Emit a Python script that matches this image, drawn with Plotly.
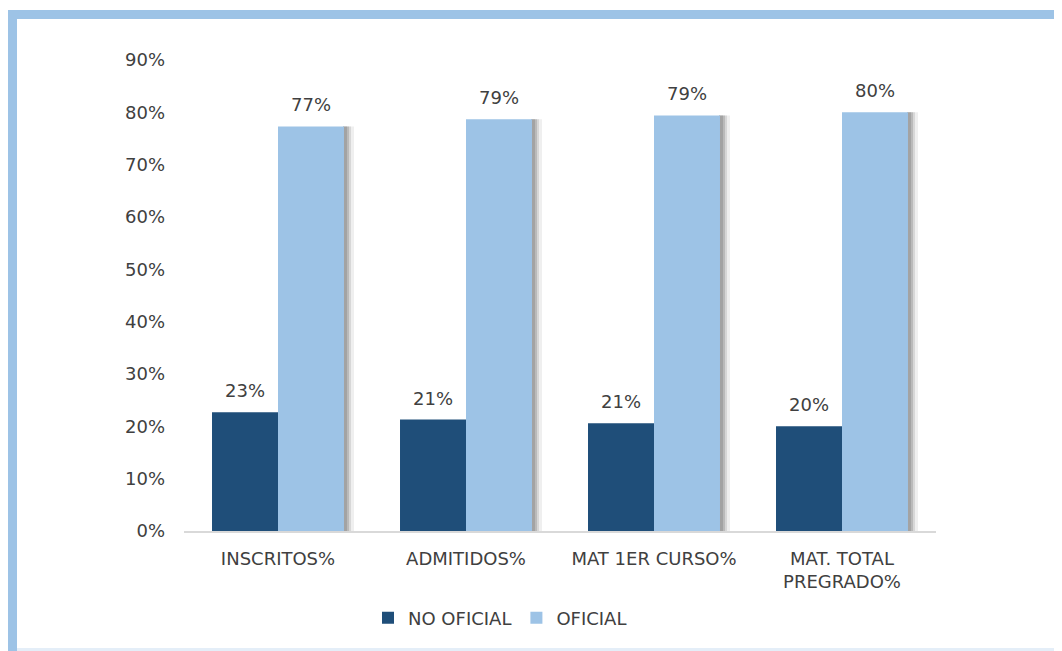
import plotly.graph_objects as go

categorias = ["INSCRITOS%", "ADMITIDOS%", "MAT 1ER CURSO%", "MAT. TOTAL<br>PREGRADO%"]
no_oficial = [22.7, 21.3, 20.6, 20.0]
oficial = [77.3, 78.7, 79.4, 80.0]
y_ticks = [0, 10, 20, 30, 40, 50, 60, 70, 80, 90]

# page shows the figure offset by 8px (body margin)
OFF = 8
W, H = 1062 - OFF, 651 - OFF
L, R, T, B = 184 - OFF, 126, 60 - OFF, 120
pw, ph = W - L - R, H - T - B

def px_x(p):
    return (p - OFF - L) / pw

def px_y(p):
    return (H - B - (p - OFF)) / ph

DARK = "#1F4E79"
LIGHT = "#9DC3E6"
TXT = "#404040"
FONT = "DejaVu Sans"
FS = 18
bw = 0.351
cpx = 1 / 188  # one pixel in category units
half_bar_px = 33

fig = go.Figure()
# soft shadow behind the light bars (layered for a blur effect)
for wpx, alpha in [(10, 0.12), (7, 0.2), (5, 0.3), (3, 0.35)]:
    fig.add_trace(go.Bar(x=categorias, y=oficial, offset=bw - cpx, width=(wpx + 1) * cpx,
                         marker=dict(color=f"rgba(120,120,120,{alpha})", line=dict(width=0)),
                         showlegend=False, hoverinfo="skip"))
fig.add_trace(go.Bar(name="NO OFICIAL", x=categorias, y=no_oficial, offset=-bw, width=bw,
                     marker=dict(color=DARK, line=dict(width=0))))
fig.add_trace(go.Bar(name="OFICIAL", x=categorias, y=oficial, offset=0, width=bw,
                     marker=dict(color=LIGHT, line=dict(width=0))))

annotations = []
for c, v in zip(categorias, no_oficial):
    annotations.append(dict(x=c, y=v, text=f"{v:.0f}%", showarrow=False, xshift=-half_bar_px,
                            yanchor="bottom", yshift=9, font=dict(size=FS, color=TXT, family=FONT)))
for c, v in zip(categorias, oficial):
    annotations.append(dict(x=c, y=v, text=f"{v:.0f}%", showarrow=False, xshift=half_bar_px,
                            yanchor="bottom", yshift=9, font=dict(size=FS, color=TXT, family=FONT)))

shapes = [
    dict(type="rect", xref="paper", yref="paper", x0=px_x(8), x1=px_x(17), y0=px_y(660), y1=px_y(10),
         fillcolor=LIGHT, line=dict(width=0), layer="below"),
    dict(type="rect", xref="paper", yref="paper", x0=px_x(8), x1=px_x(1070), y0=px_y(19), y1=px_y(10),
         fillcolor=LIGHT, line=dict(width=0), layer="below"),
    dict(type="rect", xref="paper", yref="paper", x0=px_x(17), x1=px_x(1070), y0=px_y(651), y1=px_y(648),
         fillcolor="#E4EEF8", line=dict(width=0), layer="below"),
]

fig.update_layout(
    width=W, height=H,
    margin=dict(l=L, r=R, t=T, b=B),
    paper_bgcolor="white", plot_bgcolor="white",
    barmode="overlay",
    font=dict(family=FONT, size=FS, color=TXT),
    showlegend=True,
    legend=dict(orientation="h", x=px_x(500), y=px_y(618), xanchor="center", yanchor="middle",
                font=dict(size=FS, color=TXT, family=FONT), traceorder="normal",
                itemwidth=30, bgcolor="rgba(0,0,0,0)"),
    xaxis=dict(showgrid=False, showline=True, linecolor="#D9D9D9", linewidth=2,
               ticks="", ticklabelstandoff=10,
               tickfont=dict(size=FS, color=TXT, family=FONT), fixedrange=True),
    yaxis=dict(range=[0, 90], tickvals=y_ticks, ticktext=[f"{v}%" for v in y_ticks],
               showgrid=False, zeroline=False, showline=False, ticks="",
               ticklabelstandoff=18, tickfont=dict(size=FS, color=TXT, family=FONT)),
    annotations=annotations,
    shapes=shapes,
)

fig.write_html("out.html")
